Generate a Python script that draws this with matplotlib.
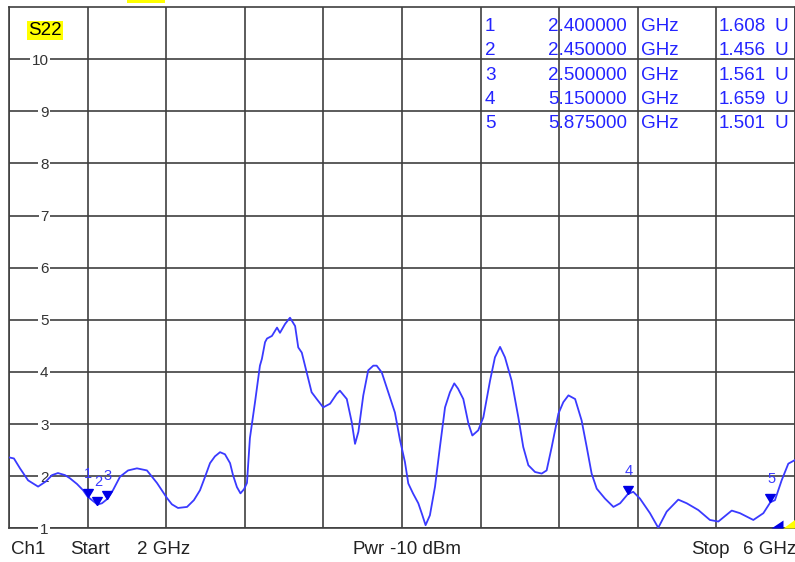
import matplotlib
matplotlib.use("Agg")
import matplotlib.pyplot as plt
from matplotlib.patches import Polygon, Rectangle

# ---------------- data ----------------
freq_ghz = [2.000, 2.025, 2.056, 2.097, 2.148, 2.188, 2.219, 2.249, 2.285, 2.310, 2.346, 2.377,
            2.400, 2.422, 2.450, 2.473, 2.500, 2.529, 2.565, 2.606, 2.651, 2.702, 2.753, 2.804,
            2.829, 2.860, 2.906, 2.941, 2.972, 2.997, 3.023, 3.048, 3.074, 3.099, 3.125, 3.140,
            3.160, 3.178, 3.196, 3.211, 3.226, 3.252, 3.277, 3.287, 3.303, 3.313, 3.338, 3.364,
            3.379, 3.405, 3.430, 3.456, 3.472, 3.490, 3.515, 3.540, 3.566, 3.599, 3.634, 3.668,
            3.684, 3.719, 3.744, 3.761, 3.778, 3.803, 3.828, 3.854, 3.871, 3.897, 3.930, 3.964,
            3.990, 4.015, 4.032, 4.056, 4.083, 4.102, 4.120, 4.142, 4.168, 4.193, 4.219, 4.244,
            4.266, 4.285, 4.312, 4.338, 4.358, 4.388, 4.414, 4.448, 4.473, 4.499, 4.524, 4.558,
            4.592, 4.617, 4.643, 4.677, 4.711, 4.736, 4.762, 4.796, 4.821, 4.847, 4.881, 4.914,
            4.940, 4.965, 4.991, 5.033, 5.076, 5.110, 5.150, 5.177, 5.211, 5.262, 5.304, 5.347,
            5.406, 5.449, 5.508, 5.567, 5.610, 5.678, 5.720, 5.788, 5.839, 5.875, 5.898, 5.932,
            5.966, 6.000]
swr = [2.36, 2.34, 2.15, 1.92, 1.80, 1.90, 2.02, 2.06, 2.02, 1.96, 1.85, 1.73,
       1.608, 1.54, 1.456, 1.48, 1.561, 1.73, 1.99, 2.11, 2.15, 2.11, 1.87, 1.58,
       1.46, 1.39, 1.41, 1.54, 1.73, 1.98, 2.25, 2.38, 2.46, 2.42, 2.25, 2.02,
       1.79, 1.67, 1.75, 1.87, 2.73, 3.42, 4.12, 4.25, 4.57, 4.64, 4.69, 4.85,
       4.75, 4.92, 5.04, 4.88, 4.47, 4.37, 3.99, 3.61, 3.48, 3.32, 3.39, 3.58,
       3.64, 3.48, 3.04, 2.62, 2.85, 3.55, 4.03, 4.12, 4.12, 3.99, 3.61, 3.22,
       2.69, 2.27, 1.86, 1.67, 1.48, 1.27, 1.06, 1.25, 1.80, 2.56, 3.32, 3.61,
       3.78, 3.68, 3.48, 3.01, 2.78, 2.88, 3.13, 3.83, 4.28, 4.48, 4.28, 3.83,
       3.13, 2.56, 2.21, 2.08, 2.05, 2.11, 2.56, 3.20, 3.42, 3.55, 3.48, 3.07,
       2.56, 2.05, 1.76, 1.57, 1.41, 1.48, 1.659, 1.70, 1.57, 1.29, 1.01, 1.32,
       1.55, 1.48, 1.35, 1.16, 1.13, 1.34, 1.29, 1.16, 1.29, 1.501, 1.54, 1.92,
       2.24, 2.31]

marker_ids = ["1", "2", "3", "4", "5"]
marker_freq = [2.400, 2.450, 2.500, 5.150, 5.875]
marker_val = [1.608, 1.456, 1.561, 1.659, 1.501]
marker_freq_text = ["2.400000", "2.450000", "2.500000", "5.150000", "5.875000"]
marker_val_text = ["1.608", "1.456", "1.561", "1.659", "1.501"]

y_ticks = [1, 2, 3, 4, 5, 6, 7, 8, 9, 10]
x_start, x_stop = 2.0, 6.0
y_min, y_max = 1, 11

# ---------------- figure ----------------
W, H = 795, 562
def fx(x):
    return x / W
def fy(y):
    return 1 - y / H

FONT = "Liberation Sans"
fig = plt.figure(figsize=(W / 100, H / 100), dpi=100)
fig.patch.set_facecolor("white")
ax = fig.add_axes([fx(9), fy(528.3), (795 - 9) / W, (528.3 - 7) / H])
ax.set_xlim(x_start, x_stop)
ax.set_ylim(y_min, y_max)

grid_col = "#3f3f3f"
ax.set_axisbelow(True)
ax.set_xticks([x_start + 0.4 * i for i in range(11)])
ax.set_yticks(y_ticks)
ax.set_xticklabels([])
ax.grid(True, color=grid_col, linewidth=1.2)
ax.tick_params(axis="x", length=0)
ax.tick_params(axis="y", length=0, pad=-28.5, labelsize=11, labelcolor="#333333")
for lbl in ax.get_yticklabels():
    lbl.set_fontfamily(FONT)
    lbl.set_bbox(dict(facecolor="white", edgecolor="none", pad=1.2))
for s in ax.spines.values():
    s.set_color(grid_col)
    s.set_linewidth(1.2)
    s.set_zorder(0.4)

# trace
ax.plot(freq_ghz, swr, color="#3a3aff", linewidth=1.3, zorder=3)

# markers (triangle with apex on the trace)
tri = [(0, 0), (-0.6, 1.0), (0.6, 1.0), (0, 0)]
ax.plot(marker_freq, marker_val, linestyle="none", marker=tri, markersize=11.5,
        color="#0000e6", zorder=4, clip_on=False)
for mid, f, v in zip(marker_ids, marker_freq, marker_val):
    ax.annotate(mid, (f, v), xytext=(0.5, 16.5), textcoords="offset points",
                ha="center", va="center", fontsize=10.5, color="#3a3aff",
                fontfamily=FONT, zorder=5)

# marker table
tcol = "#2424ff"
row_y = [26.5, 50.5, 75, 99.5, 124]
for i in range(5):
    y = fy(row_y[i])
    fig.text(fx(485), y, marker_ids[i], ha="left", va="center", fontsize=13.6, color=tcol, fontfamily=FONT)
    fig.text(fx(627), y, marker_freq_text[i], ha="right", va="center", fontsize=13.6, color=tcol, fontfamily=FONT)
    fig.text(fx(641.5), y, "GHz", ha="left", va="center", fontsize=13.6, color=tcol, fontfamily=FONT)
    fig.text(fx(765.5), y, marker_val_text[i], ha="right", va="center", fontsize=13.6, color=tcol, fontfamily=FONT)
    fig.text(fx(775), y, "U", ha="left", va="center", fontsize=13.6, color=tcol, fontfamily=FONT)

# trace label
fig.text(fx(28), fy(30.5), "S22", ha="left", va="center", fontsize=13.5, color="black",
         fontfamily=FONT, bbox=dict(facecolor="#ffff00", edgecolor="none", pad=1.0))

# footer texts
foot = dict(ha="left", va="center", fontsize=13.5, color="#222222", fontfamily=FONT)
fy_foot = fy(550)
fig.text(fx(11), fy_foot, "Ch1", **foot)
fig.text(fx(70), fy_foot, "Start", **foot)
fig.text(fx(137), fy_foot, "2 GHz", **foot)
fig.text(fx(352), fy_foot, "Pwr", **foot)
fig.text(fx(390), fy_foot, "-10 dBm", **foot)
fig.text(fx(691.5), fy_foot, "Stop", **foot)
fig.text(fx(743), fy_foot, "6 GHz", **foot)

# decorative indicators
fig.patches.append(Polygon([(fx(771.5), fy(528.5)), (fx(783.5), fy(520.5)), (fx(783.5), fy(528.5))],
                           closed=True, transform=fig.transFigure, facecolor="#0000e6", edgecolor="none", zorder=6))
fig.patches.append(Polygon([(fx(783.5), fy(528.5)), (fx(795), fy(520)), (fx(795), fy(528.5))],
                           closed=True, transform=fig.transFigure, facecolor="#ffff00", edgecolor="none", zorder=6))
fig.patches.append(Rectangle((fx(127), fy(2.5)), (165 - 127) / W, 2.5 / H, transform=fig.transFigure,
                             facecolor="#ffff00", edgecolor="none", zorder=6))

fig.savefig("out.png", dpi=100, facecolor="white")
